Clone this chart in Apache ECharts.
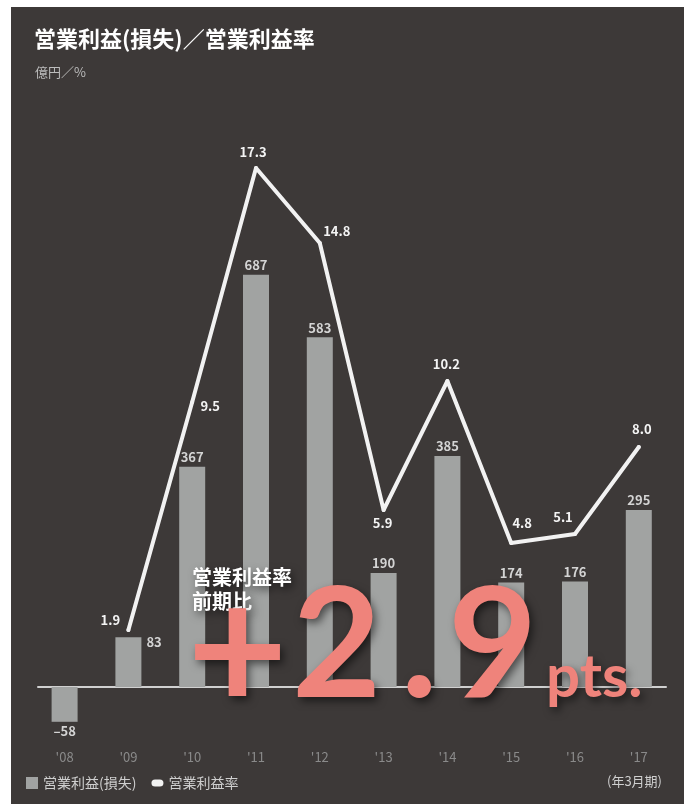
<!DOCTYPE html>
<html>
<head>
<meta charset="utf-8">
<script src="https://cdn.jsdelivr.net/npm/echarts@6/dist/echarts.min.js"></script>
<style>
html,body{margin:0;padding:0;background:#ffffff;}
#wrap{position:absolute;left:11px;top:7px;right:0;bottom:0;background:#3d3938;}
#chart{position:absolute;left:0;top:0;width:684px;height:804px;}
</style>
</head>
<body>
<div id="wrap"></div>
<div id="chart"></div>
<script>
// ---- data ----
const categories = ["'08", "'09", "'10", "'11", "'12", "'13", "'14", "'15", "'16", "'17"];
const operatingIncome = [-58, 83, 367, 687, 583, 190, 385, 174, 176, 295];   // 億円
const operatingMargin = [null, 1.9, 9.5, 17.3, 14.8, 5.9, 10.2, 4.8, 5.1, 8.0]; // %
const barName = '営業利益(損失)';
const lineName = '営業利益率';

// ---- label styling (not data) ----
const lineLabelOffsets = [null, [-18, -10], [18, 4], [-3, -16], [17, -12], [-1, 13], [-1, -17], [11, -20], [-12, -17], [3, -18]];
const FONT = '"Noto Sans CJK JP", "Noto Sans", sans-serif';
const BIG = 'Lato, "Open Sans", sans-serif';

const barData = operatingIncome.map((v, i) => {
  const item = { value: v };
  if (v < 0) item.label = { position: 'bottom', distance: 3 };
  if (i === 1) item.label = { position: 'right', distance: 5, offset: [0, -20] };
  return item;
});
const lineData = operatingMargin.map((v, i) => {
  if (v === null) return { value: null };
  return { value: v, label: { position: 'inside', offset: lineLabelOffsets[i] } };
});

const chart = echarts.init(document.getElementById('chart'), null, { renderer: 'canvas' });
const shadow = { textShadowColor: 'rgba(0,0,0,0.55)', textShadowBlur: 9, textShadowOffsetX: 3, textShadowOffsetY: 4 };
const bigStyle = Object.assign({ color: '#ef837b', fontSize: 154, lineHeight: 160, fontWeight: 'bold', fontFamily: BIG }, shadow);
const plusStyle = Object.assign({}, bigStyle, { fontSize: 174 });
chart.setOption({
  backgroundColor: 'transparent',
  animation: false,
  title: [
    { text: '営業利益(損失)／営業利益率', left: 34, top: 28, padding: 0,
      textStyle: { color: '#ffffff', fontSize: 22, fontWeight: 'bold', fontFamily: FONT } },
    { text: '億円／%', left: 35, top: 66, padding: 0,
      textStyle: { color: '#bdbdbd', fontSize: 13, fontWeight: 'normal', fontFamily: FONT } },
    { text: '(年3月期)', right: 22, top: 775, padding: 0,
      textStyle: { color: '#cfcfcf', fontSize: 13, fontWeight: 'normal', fontFamily: FONT } },
    { text: '営業利益率\n前期比', left: 192, top: 565, padding: 0,
      textStyle: Object.assign({ color: '#ffffff', fontSize: 20, fontWeight: 'bold', lineHeight: 24, fontFamily: FONT }, shadow) },
    { text: '+', left: 187, top: 575, padding: 0, textStyle: plusStyle },
    { text: '2', left: 292, top: 567, padding: 0, textStyle: bigStyle },
    { text: '.', left: 401, top: 567, padding: 0, textStyle: bigStyle },
    { text: '9', left: 448, top: 567, padding: 0, textStyle: bigStyle },
    { text: 'pts.', left: 546, top: 648, padding: 0,
      textStyle: Object.assign({ color: '#ef837b', fontSize: 60, fontWeight: 'bold', fontFamily: BIG }, shadow) }
  ],
  legend: {
    left: 26, top: 776, padding: 0,
    itemWidth: 12, itemHeight: 12, itemGap: 15,
    textStyle: { color: '#cfcfcf', fontSize: 14, fontFamily: FONT },
    data: [
      { name: barName, icon: 'rect', itemStyle: { color: '#a1a3a2' } },
      { name: lineName, icon: 'path://M3,0 H7 A3,3 0 0 1 7,6 H3 A3,3 0 0 1 3,0 Z', itemStyle: { color: '#f2f2f2', borderWidth: 0 } }
    ]
  },
  grid: [
    { left: 32.7, width: 638, top: 147, height: 600, containLabel: false },
    { left: 38, width: 628, top: 147, height: 600, containLabel: false }
  ],
  xAxis: [
    { type: 'category', gridIndex: 0, data: categories, position: 'bottom',
      axisLine: { show: false }, axisTick: { show: false },
      axisLabel: { color: '#8a8a8a', fontSize: 13, margin: 4, fontFamily: FONT } },
    { type: 'category', gridIndex: 1, data: categories,
      axisLine: { show: true, onZero: true, lineStyle: { color: '#d0d0d0', width: 2 } },
      axisTick: { show: false }, axisLabel: { show: false } }
  ],
  yAxis: [
    { type: 'value', gridIndex: 0, min: -100, max: 900, interval: 100, show: false, splitLine: { show: false } },
    { type: 'value', gridIndex: 0, min: -2, max: 18, interval: 2, show: false, splitLine: { show: false } },
    { type: 'value', gridIndex: 1, min: -100, max: 900, interval: 100, show: false, splitLine: { show: false } }
  ],
  series: [
    { name: barName, type: 'bar', xAxisIndex: 0, yAxisIndex: 0, barWidth: 26, data: barData,
      itemStyle: { color: '#a1a3a2' },
      label: { show: true, position: 'top', distance: 3, color: '#d4d4d4', fontSize: 13, fontWeight: 'bold', fontFamily: FONT,
        formatter: p => String(p.value).replace('-', '–') },
      z: 2 },
    { name: lineName, type: 'line', xAxisIndex: 0, yAxisIndex: 1, data: lineData,
      connectNulls: false, symbol: 'circle', symbolSize: 4, showSymbol: true,
      lineStyle: { color: '#f2f2f2', width: 4, cap: 'round', join: 'round' },
      itemStyle: { color: '#f2f2f2' },
      label: { show: true, color: '#f4f4f4', fontSize: 13, fontWeight: 'bold', fontFamily: FONT,
        formatter: p => p.value.toFixed(1) },
      z: 3 }
  ]
});
</script>
</body>
</html>
